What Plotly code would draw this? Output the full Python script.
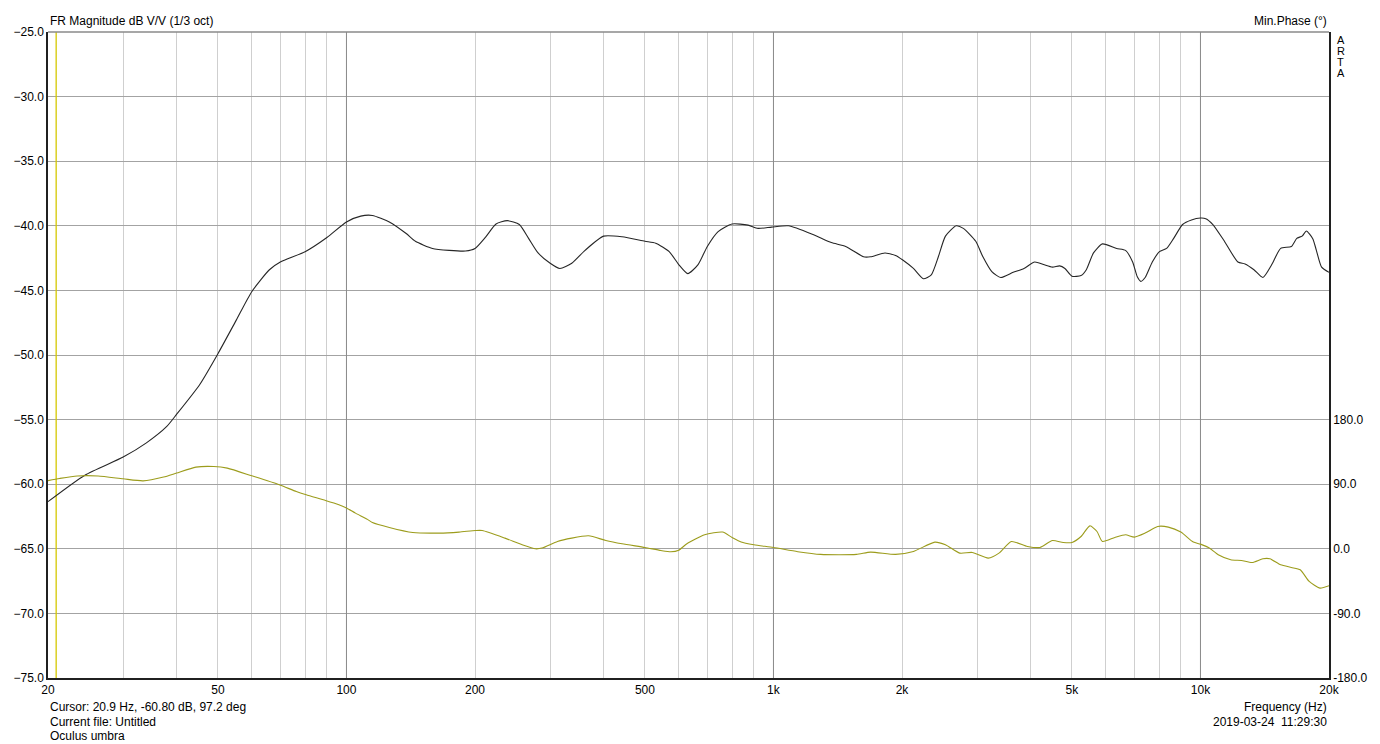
import math
import plotly.graph_objects as go

# ---------------- data ----------------
mag_freq = [20, 24.4, 30, 34, 37.9, 40, 45.3, 50, 55.2, 60, 66, 70, 80, 90, 100, 108, 115, 126,
            138, 145, 159, 174, 190, 200, 212, 224, 238, 254, 267, 281, 300, 316, 337, 362, 400,
            442, 500, 530, 570, 600, 630, 666, 700, 742, 800, 872, 920, 990, 1085, 1242, 1366,
            1476, 1625, 1688, 1824, 1932, 2008, 2127, 2244, 2342, 2433, 2528, 2679, 2784, 2977,
            3094, 3246, 3406, 3643, 3860, 4090, 4291, 4502, 4678, 4815, 5003, 5252, 5404, 5617,
            5893, 6365, 6676, 6937, 7113, 7252, 7421, 7713, 8016, 8331, 8656, 9082, 9528, 10000,
            10290, 10694, 11330, 12236, 12716, 13344, 14003, 14690, 15411, 16329, 16809, 17300,
            17702, 18323, 18684, 19220, 20000]
mag_db = [-61.35, -59.3, -57.9, -56.8, -55.55, -54.6, -52.3, -49.9, -47.3, -45.1, -43.4, -42.8,
          -42.0, -40.9, -39.7, -39.25, -39.2, -39.7, -40.6, -41.2, -41.75, -41.9, -41.95, -41.75,
          -40.85, -39.86, -39.6, -39.9, -40.97, -42.1, -42.9, -43.3, -42.9, -41.9, -40.8, -40.85,
          -41.2, -41.35, -42.0, -43.0, -43.7, -43.0, -41.6, -40.45, -39.86, -39.95, -40.2, -40.1,
          -40.0, -40.7, -41.3, -41.6, -42.4, -42.4, -42.1, -42.3, -42.65, -43.3, -44.1, -43.8,
          -42.4, -40.8, -40.0, -40.2, -41.2, -42.4, -43.55, -44.0, -43.6, -43.3, -42.8, -43.0,
          -43.2, -43.1, -43.3, -43.9, -43.85, -43.4, -42.1, -41.4, -41.75, -41.9, -42.8, -43.95,
          -44.3, -44.0, -42.8, -42.0, -41.75, -40.97, -39.9, -39.55, -39.4, -39.45, -39.9, -41.1,
          -42.8, -42.95, -43.4, -44.0, -43.0, -41.75, -41.6, -40.97, -40.8, -40.4, -41.0, -41.9,
          -43.2, -43.6]

ph_freq = [20, 21.3, 23.4, 26.2, 30, 33.4, 37.3, 40, 44.4, 48.9, 52.6, 60, 69.6, 76.3, 80.5, 89.3,
           96, 100, 105, 112, 115, 126, 143, 165, 183.5, 200.7, 208, 235, 258, 277, 287, 312, 337,
           369, 405, 442, 500, 545, 575, 600, 627, 690, 760, 800, 840, 900, 1000, 1140, 1290, 1564,
           1688, 1932, 2127, 2387, 2528, 2730, 2921, 3185, 3374, 3608, 3934, 4208, 4502, 4770,
           5003, 5252, 5508, 5724, 5893, 6302, 6676, 7006, 7421, 7938, 8410, 8995, 9622, 10000,
           10490, 11006, 11774, 12472, 13213, 14003, 14544, 15411, 16329, 17128, 17974, 19040, 20000]
ph_deg = [95, 98, 101.5, 101.5, 97.5, 94.7, 99.9, 105.5, 113.8, 114.7, 112.4, 101.7, 89.2, 79.8,
          75.2, 67.3, 61.3, 57, 49.7, 41, 36.6, 29.7, 22.7, 21.9, 23.3, 25.5, 25.5, 14.9, 5.6, 0,
          1.0, 10.2, 14.9, 18.1, 11.6, 7.0, 1.8, -2.4, -4.2, -2.0, 7.0, 19.5, 23.3, 15.8, 9.4, 5.6,
          1.8, -4, -7.8, -7.8, -4.6, -7.8, -3.7, 9.3, 5.6, -6.0, -5.1, -13.0, -6.0, 10.2, 3.3, 1.9,
          11.6, 8.8, 8.8, 17.1, 32.0, 24.1, 10.2, 15.8, 19.5, 16.3, 21.9, 31.1, 30.2, 23.3, 9.4,
          6.5, 1.0, -8.3, -15.3, -16.3, -19.1, -13.9, -13.9, -22.3, -26.0, -29.3, -45.5, -54.8, -51.5]

x_tick_vals = [20, 50, 100, 200, 500, 1000, 2000, 5000, 10000, 20000]
x_tick_text = ["20", "50", "100", "200", "500", "1k", "2k", "5k", "10k", "20k"]
x_grid_minor = [30, 40, 50, 60, 70, 80, 90, 200, 300, 400, 500, 600, 700, 800, 900,
                2000, 3000, 4000, 5000, 6000, 7000, 8000, 9000]
x_grid_major = [100, 1000, 10000]
y_range = [-75, -25]
ph_tick_vals = [-180, -90, 0, 90, 180]
ph_tick_text = ["-180.0", "-90.0", "0.0", "90.0", "180.0"]
ph_range = [-180, 720]
cursor_freq = 20.9

FONT = "Liberation Sans, Arial, sans-serif"

fig = go.Figure()

# decade grid lines (darker)
gx, gy = [], []
for f in x_grid_major:
    gx += [f, f, None]
    gy += [y_range[0], y_range[1], None]
fig.add_trace(go.Scatter(x=gx, y=gy, mode="lines", line=dict(color="#8a8a8a", width=1),
                         hoverinfo="skip", showlegend=False))

# cursor line
fig.add_trace(go.Scatter(x=[cursor_freq, cursor_freq], y=y_range, mode="lines",
                         line=dict(color="#d4c800", width=1.3), hoverinfo="skip", showlegend=False))

# phase
fig.add_trace(go.Scatter(x=ph_freq, y=ph_deg, yaxis="y2", mode="lines",
                         line=dict(color="#9c9c1c", width=1.1, shape="spline", smoothing=0.6),
                         showlegend=False))

# magnitude
fig.add_trace(go.Scatter(x=mag_freq, y=mag_db, mode="lines",
                         line=dict(color="#262626", width=1.1, shape="spline", smoothing=0.6),
                         showlegend=False))

all_x_vals = sorted(set(x_tick_vals + x_grid_minor))
all_x_text = [x_tick_text[x_tick_vals.index(v)] if v in x_tick_vals else "" for v in all_x_vals]

fig.update_layout(
    width=1380, height=744, autosize=False,
    margin=dict(l=48, r=48, t=32, b=66),
    paper_bgcolor="white", plot_bgcolor="white",
    font=dict(family=FONT, size=12, color="black"),
    xaxis=dict(type="log", range=[math.log10(20), math.log10(20000)],
               tickmode="array", tickvals=all_x_vals, ticktext=all_x_text,
               showgrid=True, gridcolor="#cfcfcf", gridwidth=1,
               showline=True, linecolor="#202020", linewidth=1.5, mirror=False,
               ticks="", zeroline=False, tickfont=dict(size=12, color="black")),
    yaxis=dict(range=y_range, tickmode="linear", tick0=-75, dtick=5, tickformat=".1f",
               showgrid=True, gridcolor="#a3a3a3", gridwidth=1,
               showline=True, linecolor="#202020", linewidth=1.5,
               ticks="", zeroline=False, tickfont=dict(size=12, color="black")),
    yaxis2=dict(range=ph_range, overlaying="y", side="right",
                tickmode="array", tickvals=ph_tick_vals, ticktext=ph_tick_text,
                showgrid=False, showline=True, linecolor="#202020", linewidth=1.5,
                ticks="", zeroline=False, tickfont=dict(size=12, color="black")),
)

# top border
fig.add_shape(type="line", xref="paper", yref="paper", x0=0, x1=1, y0=1, y1=1,
              line=dict(color="#8a8a8a", width=1.5))

def ann(text, x, y, xanchor, yanchor="middle", size=12):
    fig.add_annotation(text=text, xref="paper", yref="paper", x=x, y=y, showarrow=False,
                       xanchor=xanchor, yanchor=yanchor, font=dict(family=FONT, size=size, color="black"))

ann("FR Magnitude dB V/V (1/3 oct)", 0.0, 1.017, "left")
ann("Min.Phase (°)", 1.0, 1.017, "right")
for i, ch in enumerate("ARTA"):
    ann(ch, 1.0045, (678 - (40 + 11.0 * i)) / 646, "left", size=11)
ann("Cursor: 20.9 Hz, -60.80 dB, 97.2 deg", 0.0, -0.0449, "left")
ann("Current file: Untitled", 0.0, -0.0681, "left")
ann("Oculus umbra", 0.0, -0.0898, "left")
ann("Frequency (Hz)", 1.0, -0.0449, "right")
ann("2019-03-24\u00a0\u00a011:29:30", 1.0, -0.0681, "right")

fig.write_html("out.html", config={"displayModeBar": False},
               post_script="document.body.style.margin='0';document.body.style.overflow='hidden';")
